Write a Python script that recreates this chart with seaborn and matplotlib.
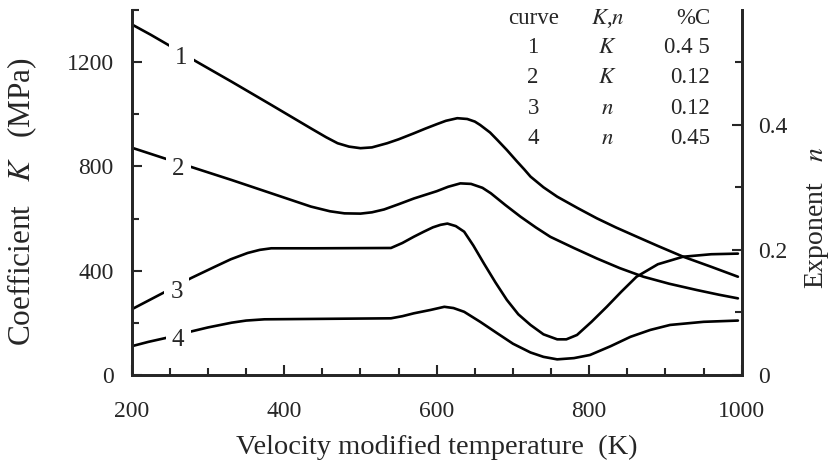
import numpy as np
import pandas as pd
import matplotlib
matplotlib.use('Agg')
import matplotlib.pyplot as plt
from matplotlib.ticker import MultipleLocator
import seaborn as sns

# curve values
temp_1 = [200, 225, 248, 285, 331, 383, 435, 455, 470, 485, 500, 515, 535, 550, 570, 585, 600, 612, 627,
          640, 650, 657, 670, 680, 692, 705, 715, 723, 740, 758, 785, 810, 835, 862, 890, 923, 960, 995]
k_1 = [1345, 1305, 1266, 1202, 1125, 1036, 946, 912, 889, 876, 870, 873, 889, 904, 927, 945, 962, 975, 985,
       982, 972, 959, 930, 900, 863, 820, 788, 761, 720, 684, 640, 601, 566, 531, 495, 454, 415, 377]

temp_2 = [200, 244, 278, 331, 383, 435, 460, 479, 500, 515, 531, 550, 570, 600, 615, 631, 645, 660, 671,
          690, 710, 730, 749, 780, 810, 840, 871, 905, 941, 970, 995]
k_2 = [872, 830, 798, 748, 697, 646, 628, 620, 619, 624, 635, 655, 677, 705, 722, 735, 733, 718, 697,
       652, 607, 566, 530, 487, 447, 410, 377, 350, 326, 308, 294]

temp_3 = [200, 222, 244, 278, 309, 330, 352, 368, 383, 440, 540, 555, 570, 583, 595, 605, 614, 625, 636,
          648, 662, 677, 692, 707, 723, 740, 758, 770, 784, 803, 823, 842, 862, 890, 923, 960, 995]
n_3 = [0.105, 0.119, 0.133, 0.155, 0.173, 0.185, 0.195, 0.200, 0.2025, 0.2025, 0.203, 0.211, 0.221, 0.229,
       0.236, 0.240, 0.242, 0.238, 0.229, 0.207, 0.178, 0.148, 0.120, 0.097, 0.080, 0.065, 0.057, 0.057,
       0.064, 0.085, 0.109, 0.133, 0.157, 0.177, 0.189, 0.193, 0.194]

temp_4 = [200, 222, 244, 276, 300, 331, 350, 374, 540, 555, 570, 592, 610, 622, 636, 657, 679, 700, 723,
          740, 758, 780, 801, 828, 854, 880, 906, 950, 995]
n_4 = [0.046, 0.053, 0.059, 0.069, 0.076, 0.0836, 0.087, 0.089, 0.0906, 0.094, 0.0986, 0.104, 0.109, 0.107,
       0.101, 0.085, 0.067, 0.050, 0.036, 0.029, 0.025, 0.027, 0.032, 0.046, 0.061, 0.072, 0.080, 0.085, 0.087]

curve_names = ['1', '2', '3', '4']
label_temp = [265, 261, 259, 261]
label_n = [0.507, 0.330, 0.133, 0.056]

table_rows = [['curve', '$K$,$n$', '%C'],
              ['1', '$K$', '0.4 5'],
              ['2', '$K$', '0.12'],
              ['3', '$n$', '0.12'],
              ['4', '$n$', '0.45']]

sns.set_style('ticks')
plt.rcParams['font.family'] = ['Liberation Serif', 'DejaVu Serif']
plt.rcParams['mathtext.fontset'] = 'stix'

fig = plt.figure(figsize=(8.32, 4.72), dpi=100)
ax = fig.add_axes([0.1583, 0.2055, 0.7332, 0.7733])
ax2 = ax.twinx()

lw = 1.9
sns.lineplot(x=temp_1, y=k_1, ax=ax, color='black', lw=lw, sort=False)
sns.lineplot(x=temp_2, y=k_2, ax=ax, color='black', lw=lw, sort=False)
sns.lineplot(x=temp_3, y=n_3, ax=ax2, color='black', lw=lw, sort=False)
sns.lineplot(x=temp_4, y=n_4, ax=ax2, color='black', lw=lw, sort=False)

ax.set_xlim(200, 1000)
ax.set_ylim(0, 1400)
ax2.set_ylim(0, 1400 / 2400)

ax.xaxis.set_major_locator(MultipleLocator(200))
ax.xaxis.set_minor_locator(MultipleLocator(50))
ax.yaxis.set_major_locator(MultipleLocator(400))
ax.yaxis.set_minor_locator(MultipleLocator(200))
ax2.yaxis.set_major_locator(MultipleLocator(0.2))
ax2.yaxis.set_minor_locator(MultipleLocator(0.1))
ax2.set_yticks([0, 0.2, 0.4])
ax2.set_yticklabels(['0', '0.2', '0.4'])

for a in (ax, ax2):
    a.tick_params(which='both', direction='in', width=1.5, labelsize=17)
    a.tick_params(which='major', length=7)
    a.tick_params(which='minor', length=5)
    for s in ['left', 'right', 'bottom']:
        a.spines[s].set_linewidth(2.0)
    a.spines['top'].set_visible(False)
ax.tick_params(axis='x', pad=19)
ax.tick_params(axis='y', pad=13)
ax2.tick_params(axis='y', pad=12)

ax.set_xlabel('Velocity modified temperature  (K)', fontsize=20.5, labelpad=9)
ax.set_ylabel('Coefficient   $K$   (MPa)', fontsize=22.5)
ax.yaxis.set_label_coords(-0.152, 0.475)
ax2.set_ylabel('Exponent   $n$', fontsize=20)
ax2.yaxis.set_label_coords(1.1, 0.43)

for name, tx, ty in zip(curve_names, label_temp, label_n):
    ax2.text(tx, ty, name, fontsize=18, ha='center', va='center', zorder=5,
             bbox=dict(facecolor='white', edgecolor='none', pad=4.5))

col_x = [0.658, 0.78, 0.948]
col_ha = ['center', 'center', 'right']
row_y = [0.978, 0.896, 0.814, 0.7315, 0.649]
for row, ry in zip(table_rows, row_y):
    for cell, cx, ha in zip(row, col_x, col_ha):
        ax2.text(cx, ry, cell, transform=ax2.transAxes, fontsize=16.5, ha=ha, va='center')

fig.savefig('out.png', dpi=100)
